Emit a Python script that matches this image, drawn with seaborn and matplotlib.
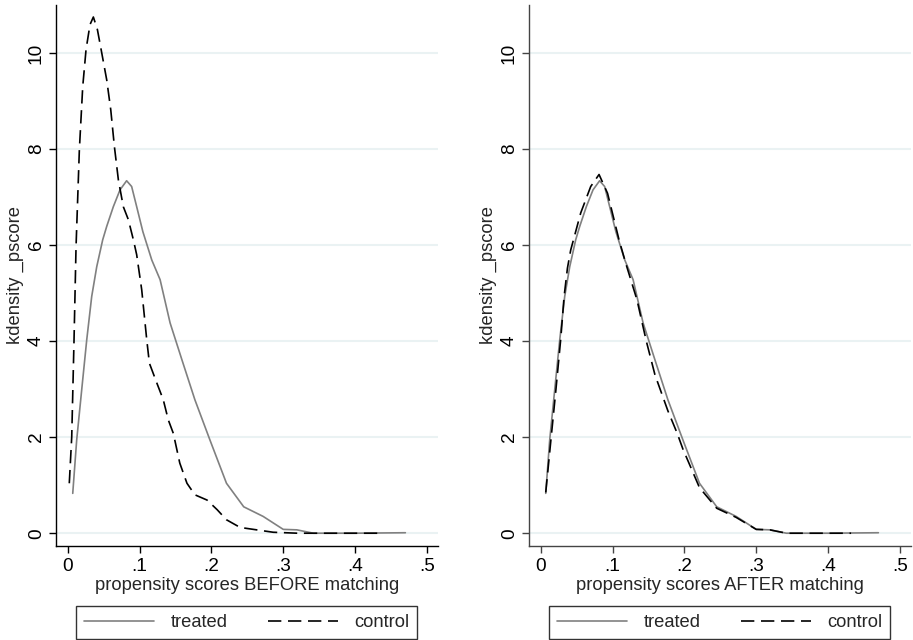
import matplotlib
matplotlib.use("Agg")
import matplotlib.pyplot as plt
import seaborn as sns
import pandas as pd
from matplotlib.lines import Line2D

# ---- data ----
treated_x = [0.007, 0.0125, 0.0195, 0.0265, 0.0334, 0.0404, 0.0487, 0.0543, 0.0635, 0.0728,
             0.082, 0.089, 0.096, 0.1046, 0.117, 0.1286, 0.1425, 0.159, 0.177, 0.198,
             0.221, 0.245, 0.272, 0.300, 0.319, 0.342, 0.400, 0.470]
treated_y = [0.83, 1.94, 2.99, 4.03, 4.93, 5.55, 6.11, 6.39, 6.80, 7.15,
             7.34, 7.22, 6.80, 6.28, 5.69, 5.28, 4.38, 3.61, 2.78, 1.94,
             1.04, 0.55, 0.35, 0.08, 0.07, 0.00, 0.00, 0.01]

control_before_x = [0.0022, 0.0056, 0.0088, 0.0116, 0.0162, 0.0209, 0.0255, 0.031, 0.0357, 0.0413,
                    0.0474, 0.0543, 0.0599, 0.065, 0.0705, 0.0774, 0.0844, 0.0914, 0.096, 0.103,
                    0.110, 0.1137, 0.124, 0.133, 0.140, 0.147, 0.156, 0.166, 0.177, 0.194,
                    0.208, 0.221, 0.240, 0.263, 0.286, 0.320, 0.435]
control_before_y = [1.04, 2.01, 4.03, 5.97, 7.98, 9.30, 10.07, 10.59, 10.75, 10.49,
                    10.00, 9.44, 8.82, 8.05, 7.36, 6.80, 6.53, 6.11, 5.80, 5.07,
                    4.03, 3.54, 3.13, 2.78, 2.36, 2.08, 1.46, 1.04, 0.80, 0.69,
                    0.49, 0.28, 0.12, 0.07, 0.02, 0.00, 0.00]

control_after_x = [0.007, 0.0139, 0.0209, 0.0279, 0.0325, 0.0372, 0.0418, 0.0557, 0.0696, 0.0812,
                   0.093, 0.109, 0.1184, 0.134, 0.147, 0.159, 0.177, 0.190, 0.198, 0.221,
                   0.245, 0.272, 0.300, 0.319, 0.342, 0.432]
control_after_y = [0.85, 1.90, 2.95, 4.05, 4.92, 5.52, 5.90, 6.67, 7.22, 7.47,
                   7.08, 6.11, 5.62, 4.86, 4.00, 3.30, 2.55, 2.08, 1.75, 0.95,
                   0.52, 0.33, 0.08, 0.07, 0.00, 0.00]

x_ticks = [0, 0.1, 0.2, 0.3, 0.4, 0.5]
x_tick_labels = ["0", ".1", ".2", ".3", ".4", ".5"]
y_ticks = [0, 2, 4, 6, 8, 10]
series_names = ["treated", "control"]
x_titles = ["propensity scores BEFORE matching", "propensity scores AFTER matching"]
y_title = "kdensity _pscore"

# ---- style ----
sns.set_theme(style="white")
plt.rcParams["font.family"] = ["Liberation Sans", "DejaVu Sans"]

TREAT_COLOR = "#808080"
CTRL_COLOR = "#000000"
DASH = (0, (8, 4))
GRID_COLOR = "#eaf2f3"
FS = 13.2

fig = plt.figure(figsize=(9.13, 6.4), dpi=100)
ax_l = fig.add_axes([56 / 913, 1 - 545.7 / 640, (437.7 - 56) / 913, (545.7 - 5) / 640])
ax_r = fig.add_axes([529 / 913, 1 - 545.7 / 640, (910.7 - 529) / 913, (545.7 - 5) / 640])

panels = [
    (ax_l, control_before_x, control_before_y, x_titles[0], "#000000"),
    (ax_r, control_after_x, control_after_y, x_titles[1], "#444444"),
]

for ax, cx, cy, xt, spine_col in panels:
    df_t = pd.DataFrame({"x": treated_x, "y": treated_y})
    df_c = pd.DataFrame({"x": cx, "y": cy})
    sns.lineplot(data=df_t, x="x", y="y", ax=ax, color=TREAT_COLOR, lw=1.2,
                 sort=False, estimator=None)
    sns.lineplot(data=df_c, x="x", y="y", ax=ax, color=CTRL_COLOR, lw=1.2,
                 linestyle=DASH, sort=False, estimator=None)

    ax.set_xlim(-0.0163, 0.515)
    ax.set_ylim(-0.26, 11.0)
    ax.set_xticks(x_ticks)
    ax.set_xticklabels(x_tick_labels, fontsize=FS + 0.5)
    ax.set_yticks(y_ticks)
    ax.set_yticklabels([str(v) for v in y_ticks], fontsize=FS + 0.5, rotation=90, va="center")
    ax.set_xlabel(xt, fontsize=FS, labelpad=1)
    ax.set_ylabel(y_title, fontsize=FS, labelpad=3)

    ax.grid(False)
    ax.yaxis.grid(True, color=GRID_COLOR, lw=1.5)
    ax.set_axisbelow(True)
    for s in ["top", "right"]:
        ax.spines[s].set_visible(False)
    for s in ["left", "bottom"]:
        ax.spines[s].set_color(spine_col)
        ax.spines[s].set_linewidth(1.0)
    ax.tick_params(axis="both", direction="out", length=5, width=1.0,
                   labelcolor="black", bottom=True, left=True)
    ax.tick_params(axis="both", color=spine_col)
    ax.tick_params(axis="x", pad=4)
    ax.tick_params(axis="y", pad=3)

    handles = [Line2D([], [], color=TREAT_COLOR, lw=1.2),
               Line2D([], [], color=CTRL_COLOR, lw=1.2, linestyle=DASH)]
    leg = ax.legend(handles, series_names, loc="upper center", bbox_to_anchor=(0.5, -0.111),
                    ncol=2, frameon=True, fancybox=False, fontsize=FS, handlelength=3.8,
                    columnspacing=2.2, handletextpad=0.9, borderpad=0.45, borderaxespad=0)
    leg.get_frame().set_edgecolor("black")
    leg.get_frame().set_linewidth(1.0)

fig.savefig("out.png", dpi=100)
